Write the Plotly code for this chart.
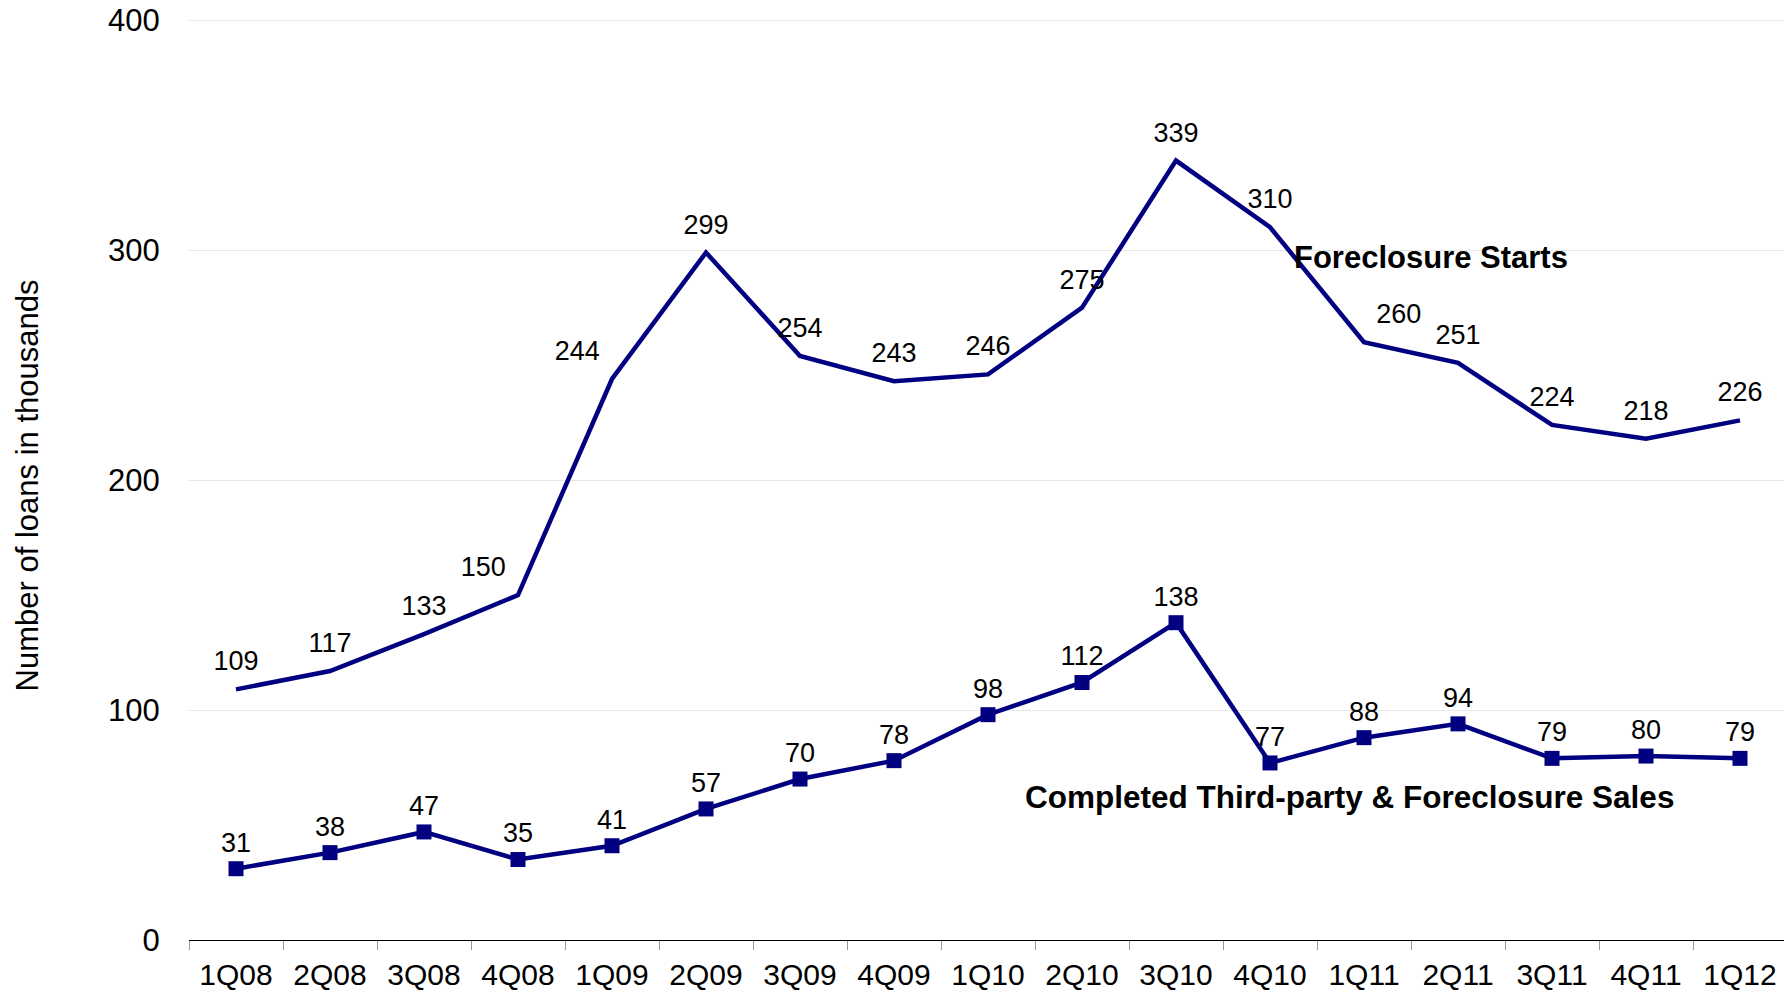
import plotly.graph_objects as go

quarters = ['1Q08', '2Q08', '3Q08', '4Q08', '1Q09', '2Q09', '3Q09', '4Q09', '1Q10',
            '2Q10', '3Q10', '4Q10', '1Q11', '2Q11', '3Q11', '4Q11', '1Q12']
starts = [109, 117, 133, 150, 244, 299, 254, 243, 246, 275, 339, 310, 260, 251, 224, 218, 226]
sales = [31, 38, 47, 35, 41, 57, 70, 78, 98, 112, 138, 77, 88, 94, 79, 80, 79]
y_ticks = [0, 100, 200, 300, 400]

navy = '#000080'
font = 'Arial, Liberation Sans, sans-serif'

starts_pos = ['top center'] * len(starts)
starts_pos[3] = 'top left'
starts_pos[4] = 'top left'
starts_pos[12] = 'top right'

fig = go.Figure()

fig.add_trace(go.Scatter(x = quarters, y = starts, mode = 'lines+markers+text',
                         line = {'color' : navy, 'width' : 4.5},
                         marker = {'size' : 18, 'color' : 'rgba(0,0,0,0)'},
                         text = [str(v) for v in starts], textposition = starts_pos,
                         textfont = {'size' : 27, 'family' : font, 'color' : 'black'},
                         name = 'Foreclosure Starts', cliponaxis = False))

fig.add_trace(go.Scatter(x = quarters, y = sales, mode = 'lines+markers+text',
                         line = {'color' : navy, 'width' : 4.5},
                         marker = {'size' : 15, 'symbol' : 'square', 'color' : navy},
                         text = [str(v) for v in sales], textposition = 'top center',
                         textfont = {'size' : 27, 'family' : font, 'color' : 'black'},
                         name = 'Completed Third-party & Foreclosure Sales', cliponaxis = False))

fig.add_annotation(x = 12.71, y = 297, xref = 'x', yref = 'y',
                   text = '<b>Foreclosure Starts</b>', showarrow = False,
                   font = {'size' : 31, 'family' : font, 'color' : 'black'})
fig.add_annotation(x = 11.85, y = 62, xref = 'x', yref = 'y',
                   text = '<b>Completed Third-party & Foreclosure Sales</b>', showarrow = False,
                   font = {'size' : 31.5, 'family' : font, 'color' : 'black'})
fig.add_annotation(x = -0.1008, y = 0.493, xref = 'paper', yref = 'paper',
                   xanchor = 'center', yanchor = 'middle',
                   text = 'Number of loans in thousands', showarrow = False, textangle = -90,
                   font = {'size' : 31, 'family' : font, 'color' : 'black'})

fig.update_layout(width = 1792, height = 997, showlegend = False,
                  plot_bgcolor = 'white', paper_bgcolor = 'white',
                  margin = {'l' : 181, 'r' : 13, 't' : 10, 'b' : 65},
                  font = {'family' : font, 'color' : 'black'})

fig.update_xaxes(range = [-0.5, 16.5], automargin = False,
                 showline = True, linecolor = 'black', linewidth = 1,
                 ticks = 'outside', tickson = 'boundaries', ticklen = 9, tickcolor = '#999999',
                 ticklabelstandoff = 8, showgrid = False,
                 tickfont = {'size' : 30, 'family' : font, 'color' : 'black'})

fig.update_yaxes(range = [0, 401], tickmode = 'array', tickvals = y_ticks, automargin = False,
                 ticklabeloverflow = 'allow',
                 showgrid = True, gridcolor = '#e6e6e6',
                 gridwidth = 1, zeroline = False, showline = False,
                 ticks = 'outside', ticklen = 22, tickcolor = 'rgba(0,0,0,0)',
                 tickfont = {'size' : 31, 'family' : font, 'color' : 'black'})

fig.write_html('out.html')
